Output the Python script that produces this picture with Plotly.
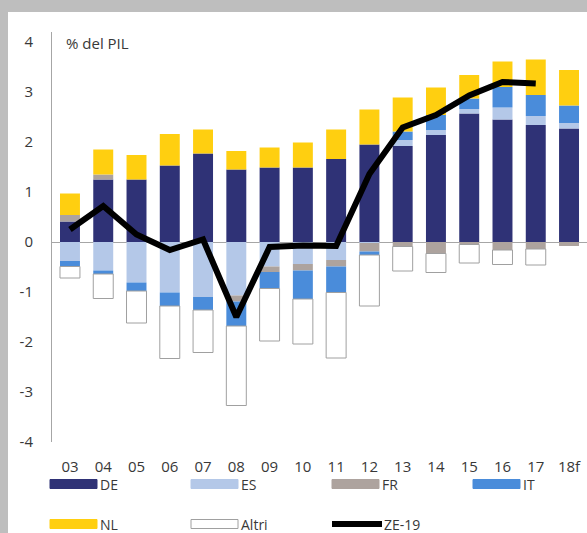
import plotly.graph_objects as go

years = ["03", "04", "05", "06", "07", "08", "09", "10", "11", "12", "13", "14", "15", "16", "17", "18f"]

de = [0.41, 1.25, 1.25, 1.53, 1.77, 1.45, 1.49, 1.49, 1.66, 1.95, 1.92, 2.14, 2.57, 2.45, 2.34, 2.27]
es = [-0.38, -0.57, -0.81, -1.01, -1.10, -1.07, -0.49, -0.44, -0.36, -0.02, 0.12, 0.10, 0.09, 0.24, 0.18, 0.11]
fr = [0.13, 0.10, 0.0, 0.0, 0.0, -0.12, -0.11, -0.13, -0.13, -0.17, -0.09, -0.23, -0.05, -0.16, -0.14, -0.08]
it = [-0.11, -0.07, -0.17, -0.27, -0.26, -0.49, -0.33, -0.57, -0.52, -0.07, 0.17, 0.30, 0.21, 0.41, 0.42, 0.35]
nl = [0.43, 0.50, 0.49, 0.63, 0.48, 0.37, 0.40, 0.50, 0.59, 0.70, 0.68, 0.55, 0.47, 0.51, 0.71, 0.71]
altri = [-0.23, -0.49, -0.64, -1.05, -0.85, -1.59, -1.05, -0.90, -1.31, -1.02, -0.49, -0.38, -0.37, -0.29, -0.32, None]
ze19 = [0.25, 0.72, 0.15, -0.16, 0.05, -1.50, -0.10, -0.07, -0.08, 1.36, 2.29, 2.54, 2.93, 3.20, 3.17, None]

y_ticks = [-4, -3, -2, -1, 0, 1, 2, 3, 4]
y_ticktext = ["-4", "-3", "-2", "-1", "0", "1", "2", "3", "4"]

colors = {
    "DE": "#2F3276",
    "ES": "#B4C8E8",
    "FR": "#ADA39E",
    "IT": "#4A8CDA",
    "NL": "#FFCF10",
    "Altri": "#FFFFFF",
}

W, H = 587, 533
ML, MR, MT, MB = 52, 0, 32, 91
PW, PH = W - ML - MR, H - MT - MB
FONT = "Open Sans"
TXT = "#383838"


def px_x(p):
    return (p - ML) / PW


def px_y(p):
    return (H - MB - p) / PH


fig = go.Figure()

for name, vals in [("DE", de), ("ES", es), ("FR", fr), ("IT", it), ("NL", nl), ("Altri", altri)]:
    line = dict(color="#A0A0A0", width=1) if name == "Altri" else dict(width=0)
    fig.add_trace(go.Bar(x=years, y=vals, name=name, marker=dict(color=colors[name], line=line)))

fig.add_trace(go.Scatter(x=years, y=ze19, name="ZE-19", mode="lines",
                         line=dict(color="black", width=6)))

shapes = [
    # grey frame around the picture
    dict(type="rect", xref="paper", yref="paper", x0=px_x(0), x1=px_x(W), y0=px_y(0), y1=px_y(12),
         fillcolor="#BEBEBE", line=dict(width=0), layer="below"),
    dict(type="rect", xref="paper", yref="paper", x0=px_x(0), x1=px_x(8), y0=px_y(0), y1=px_y(H),
         fillcolor="#BEBEBE", line=dict(width=0), layer="below"),
]
annotations = [
    dict(text="% del PIL", xref="paper", yref="paper", x=px_x(64), y=px_y(43), xanchor="left",
         yanchor="middle", showarrow=False, font=dict(family=FONT, size=15, color=TXT)),
]

# legend drawn by hand: wide swatches as in the original
legend_items = ["DE", "ES", "FR", "IT", "NL", "Altri", "ZE-19"]
for i, name in enumerate(legend_items):
    row, col = divmod(i, 4)
    x0 = 50 + col * 141
    yc = 484 + row * 40
    if name == "ZE-19":
        x0 = 332
        shapes.append(dict(type="line", xref="paper", yref="paper", x0=px_x(x0), x1=px_x(x0 + 50),
                           y0=px_y(yc), y1=px_y(yc), line=dict(color="black", width=6)))
        lx = x0 + 50
    else:
        lc = "#A0A0A0" if name == "Altri" else colors[name]
        shapes.append(dict(type="rect", xref="paper", yref="paper", x0=px_x(x0), x1=px_x(x0 + 47),
                           y0=px_y(yc - 4.5), y1=px_y(yc + 4.5), fillcolor=colors[name],
                           line=dict(color=lc, width=1)))
        lx = x0 + 48
    annotations.append(dict(text=name, xref="paper", yref="paper", x=px_x(lx), y=px_y(yc),
                            xanchor="left", yanchor="middle", showarrow=False,
                            font=dict(family=FONT, size=14, color=TXT)))

fig.update_layout(
    width=W, height=H,
    margin=dict(l=ML, r=MR, t=MT, b=MB),
    paper_bgcolor="white", plot_bgcolor="white",
    barmode="relative", bargap=0.4,
    showlegend=False,
    font=dict(family=FONT, size=15, color=TXT),
    shapes=shapes, annotations=annotations,
    xaxis=dict(range=[-0.54, 15.54], showgrid=False, showline=False, ticks="",
               ticklabelstandoff=14, tickfont=dict(size=15)),
    yaxis=dict(range=[-4, 4.2], tickvals=y_ticks, ticktext=y_ticktext, showgrid=False,
               showline=True, linecolor="#A6A6A6", linewidth=1,
               zeroline=True, zerolinecolor="#A6A6A6", zerolinewidth=1,
               ticks="", ticklabelstandoff=15, tickfont=dict(size=15)),
)

# page has a default 8px body margin; drop it so the figure fills the window
fig.write_html("out.html", config={"displayModeBar": False},
               post_script="document.body.style.margin='0';document.body.style.overflow='hidden';")
